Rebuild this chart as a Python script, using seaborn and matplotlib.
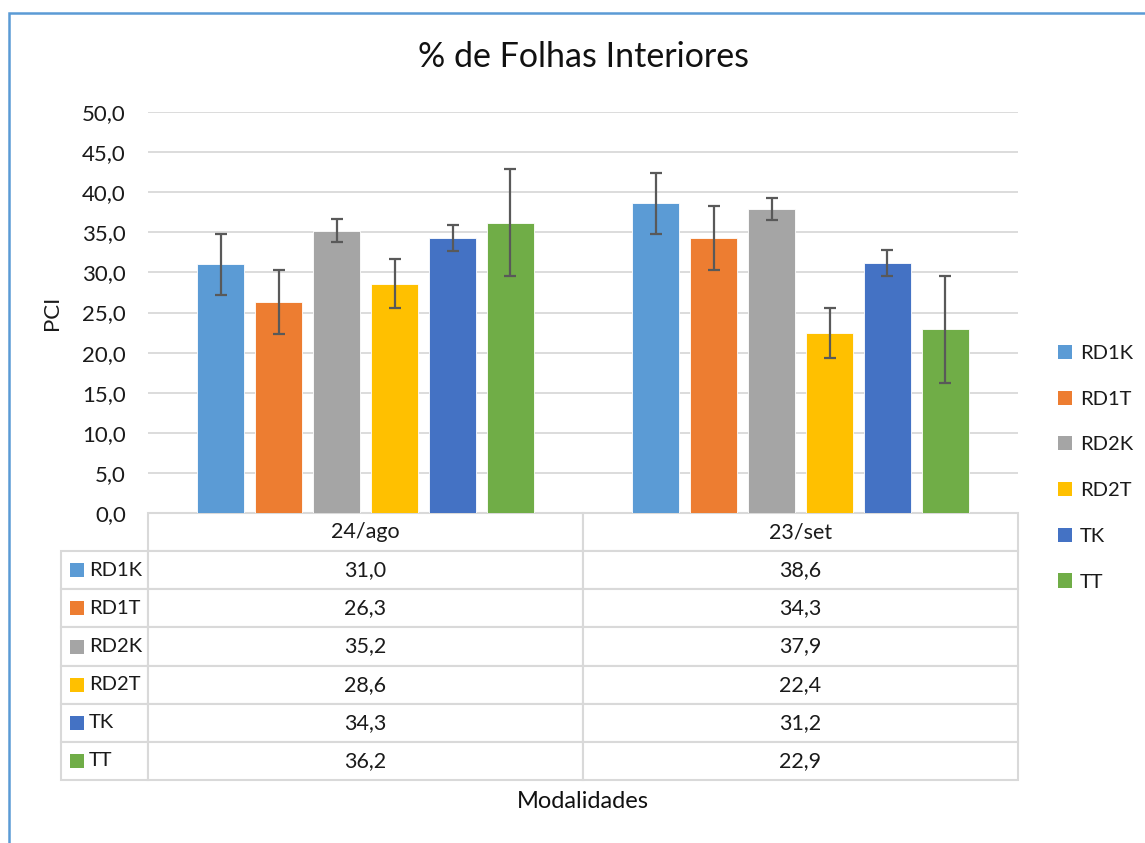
import pandas as pd
import matplotlib
matplotlib.use("Agg")
import matplotlib.pyplot as plt
import matplotlib.patches as mpatches
from matplotlib.ticker import FuncFormatter
import seaborn as sns

# dados
datas = ['24/ago', '23/set']
modalidades = ['RD1K', 'RD1T', 'RD2K', 'RD2T', 'TK', 'TT']
pci_24ago = [31.0, 26.3, 35.2, 28.6, 34.3, 36.2]
pci_23set = [38.6, 34.3, 37.9, 22.4, 31.2, 22.9]
erro = [3.8, 4.0, 1.4, 3.1, 1.6, 6.7]
cores = ['#5B9BD5', '#ED7D31', '#A5A5A5', '#FFC000', '#4472C4', '#70AD47']

df = pd.DataFrame({
    'Data': [datas[0]] * 6 + [datas[1]] * 6,
    'Modalidade': modalidades * 2,
    'PCI': pci_24ago + pci_23set,
})

sns.set_style('white')
plt.rcParams['font.family'] = ['Lato', 'DejaVu Sans']

W, H = 1145, 843
fig = plt.figure(figsize=(W / 100, H / 100), dpi=100)
ax = fig.add_axes([148 / W, (H - 513) / H, 870 / W, 401 / H])

sns.barplot(data=df, x='Data', y='PCI', hue='Modalidade', hue_order=modalidades,
            palette=cores, saturation=1, errorbar=None, width=0.8, gap=0.2, ax=ax,
            edgecolor='white', linewidth=0.6)

# barras de erro
for cont, e in zip(ax.containers, erro):
    xs = [p.get_x() + p.get_width() / 2 for p in cont]
    ys = [p.get_height() for p in cont]
    ax.errorbar(xs, ys, yerr=[e] * len(xs), fmt='none', ecolor='#595959',
                elinewidth=1.6, capsize=4.3, capthick=1.6, zorder=5)

ax.set_ylim(0, 50)
ax.set_xlim(-0.5, 1.5)
ax.set_yticks(range(0, 51, 5))
ax.yaxis.set_major_formatter(FuncFormatter(lambda v, p: f'{v:.1f}'.replace('.', ',')))
ax.tick_params(axis='y', length=0, pad=16, labelsize=16, labelcolor='#1a1a1a')
ax.set_xticks([])
ax.set_xlabel('')
ax.set_ylabel('PCI', fontsize=16, color='#1a1a1a')
ax.yaxis.set_label_coords((62 - 148) / 870, 0.5)
ax.grid(axis='y', color='#D9D9D9', linewidth=1.3)
ax.set_axisbelow(True)
for s in ax.spines.values():
    s.set_visible(False)

# tabela de dados
fmt = lambda v: f'{v:.1f}'.replace('.', ',')
cell_text = [['', datas[0], datas[1]]] + \
    [['', fmt(a), fmt(b)] for a, b in zip(pci_24ago, pci_23set)]
tbl = ax.table(cellText=cell_text, cellLoc='center',
               colWidths=[87 / 957, 435 / 957, 435 / 957],
               bbox=[-87 / 870, -267 / 401, 957 / 870, 267 / 401])
tbl.auto_set_font_size(False)
tbl.set_fontsize(15.5)
for (r, c), cell in tbl.get_celld().items():
    cell.set_edgecolor('#D9D9D9')
    cell.set_linewidth(1.5)
    cell.get_text().set_color('#1a1a1a')
tbl[0, 0].visible_edges = ''

row_h = 267 / 401 / 7
for i, (nome, cor) in enumerate(zip(modalidades, cores)):
    yc = -row_h * (i + 1.5)
    ax.add_patch(mpatches.Rectangle((-78 / 870, yc - 7 / 401), 14 / 870, 14 / 401,
                                    transform=ax.transAxes, clip_on=False,
                                    facecolor=cor, edgecolor='none'))
    ax.text(-59 / 870, yc, nome, transform=ax.transAxes, ha='left', va='center',
            fontsize=14.5, color='#1a1a1a')

# legenda
ax.get_legend().remove()
handles = [mpatches.Patch(facecolor=c, edgecolor='none', label=m)
           for m, c in zip(modalidades, cores)]
fig.legend(handles=handles, loc='upper left', bbox_to_anchor=(1058 / W, 1 - 345 / H),
           frameon=False, fontsize=14.5, handlelength=0.7, handleheight=0.7,
           handletextpad=0.4, labelspacing=1.42, borderpad=0, borderaxespad=0,
           labelcolor='#1a1a1a')

fig.text(583 / W, 1 - 57 / H, '% de Folhas Interiores', ha='center', va='center',
         fontsize=24.5, color='#111111')
fig.text(583 / W, 1 - 802 / H, 'Modalidades', ha='center', va='center',
         fontsize=17, color='#111111')

# moldura
fig.add_artist(mpatches.Rectangle((9 / W, -0.05), 1.2, 1.05 - 13 / H,
                                  transform=fig.transFigure, fill=False,
                                  edgecolor='#5B9BD5', linewidth=1.8))

fig.savefig('out.png', dpi=100)
